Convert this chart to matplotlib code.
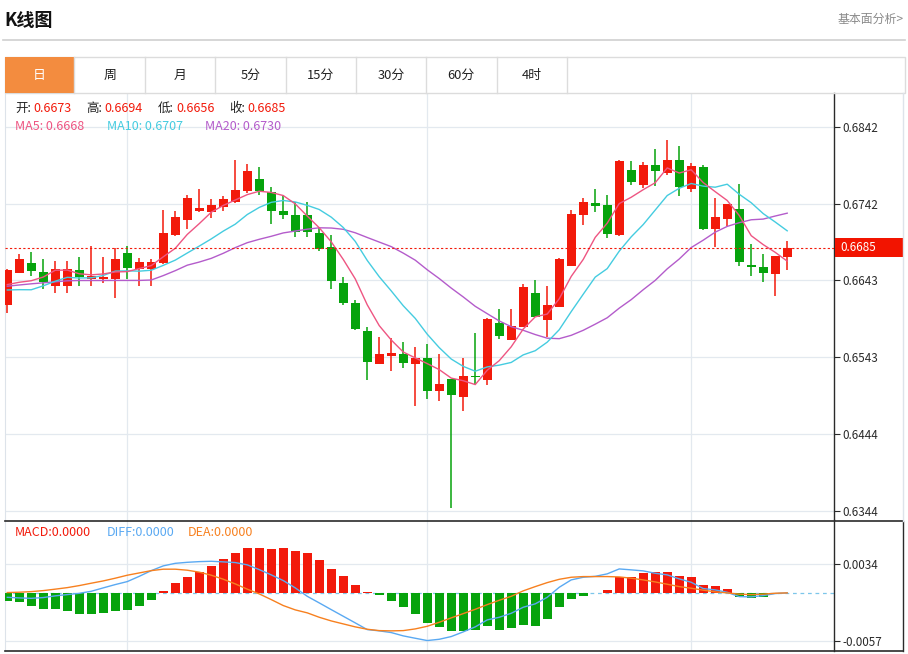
import matplotlib
matplotlib.use('Agg')
import matplotlib.pyplot as plt
import numpy as np
import pandas as pd
from matplotlib.patches import Rectangle
from matplotlib.lines import Line2D

plt.rcParams['font.family'] = ['Noto Sans CJK SC', 'DejaVu Sans']

W, H = 908, 654

# ---------------- data ----------------
opens = [0.6611, 0.6653, 0.6665, 0.6654, 0.6636, 0.6636, 0.6656, 0.6645, 0.6644, 0.6644,
         0.6678, 0.6657, 0.6657, 0.6665, 0.6702, 0.6721, 0.6733, 0.6732, 0.6738, 0.6744,
         0.6759, 0.6774, 0.6758, 0.6733, 0.6728, 0.6727, 0.6704, 0.6686, 0.6640, 0.6613,
         0.6577, 0.6535, 0.6545, 0.6548, 0.6535, 0.6542, 0.6499, 0.6515, 0.6492, 0.6519,
         0.6514, 0.6588, 0.6565, 0.6582, 0.6627, 0.6592, 0.6608, 0.6662, 0.6727, 0.6743,
         0.6741, 0.6702, 0.6786, 0.6767, 0.6792, 0.6782, 0.6799, 0.6761, 0.6790, 0.6709,
         0.6723, 0.6736, 0.6663, 0.6660, 0.6651, 0.6673]
highs = [0.6658, 0.6677, 0.6680, 0.6670, 0.6668, 0.6668, 0.6673, 0.6688, 0.6673, 0.6685,
         0.6688, 0.6672, 0.6671, 0.6734, 0.6733, 0.6753, 0.6761, 0.6748, 0.6752, 0.6799,
         0.6794, 0.6790, 0.6764, 0.6754, 0.6745, 0.6744, 0.6712, 0.6702, 0.6647, 0.6617,
         0.6583, 0.6569, 0.6568, 0.6563, 0.6556, 0.6560, 0.6548, 0.6515, 0.6542, 0.6575,
         0.6594, 0.6606, 0.6606, 0.6638, 0.6643, 0.6636, 0.6672, 0.6734, 0.6750, 0.6761,
         0.6754, 0.6799, 0.6798, 0.6796, 0.6813, 0.6825, 0.6817, 0.6795, 0.6793, 0.6750,
         0.6742, 0.6768, 0.6690, 0.6677, 0.6675, 0.6694]
lows = [0.6601, 0.6652, 0.6648, 0.6632, 0.6627, 0.6627, 0.6636, 0.6636, 0.6640, 0.6620,
        0.6645, 0.6635, 0.6635, 0.6664, 0.6701, 0.6710, 0.6732, 0.6724, 0.6733, 0.6743,
        0.6756, 0.6753, 0.6716, 0.6722, 0.6699, 0.6699, 0.6681, 0.6632, 0.6611, 0.6578,
        0.6514, 0.6534, 0.6525, 0.6529, 0.6480, 0.6489, 0.6487, 0.6348, 0.6473, 0.6509,
        0.6507, 0.6567, 0.6565, 0.6582, 0.6596, 0.6569, 0.6608, 0.6662, 0.6714, 0.6731,
        0.6698, 0.6700, 0.6767, 0.6762, 0.6765, 0.6780, 0.6752, 0.6758, 0.6708, 0.6686,
        0.6713, 0.6661, 0.6648, 0.6641, 0.6623, 0.6656]
closes = [0.6656, 0.6671, 0.6655, 0.6641, 0.6657, 0.6657, 0.6647, 0.6648, 0.6647, 0.6670,
          0.6659, 0.6667, 0.6667, 0.6704, 0.6725, 0.6749, 0.6737, 0.6741, 0.6748, 0.6760,
          0.6784, 0.6759, 0.6733, 0.6728, 0.6706, 0.6705, 0.6683, 0.6642, 0.6614, 0.6580,
          0.6537, 0.6548, 0.6549, 0.6536, 0.6542, 0.6500, 0.6509, 0.6494, 0.6519, 0.6517,
          0.6593, 0.6571, 0.6584, 0.6634, 0.6596, 0.6611, 0.6670, 0.6729, 0.6744, 0.6739,
          0.6703, 0.6797, 0.6770, 0.6793, 0.6784, 0.6799, 0.6764, 0.6791, 0.6710, 0.6725,
          0.6742, 0.6667, 0.6660, 0.6652, 0.6675, 0.6685]
# closes before the visible window (read back from the MA lines at the left edge)
prior_closes = [0.6639, 0.6625, 0.6615, 0.6631, 0.6631, 0.6639, 0.6648, 0.6647, 0.6668, 0.6659,
                0.6667, 0.6656, 0.6590, 0.6597, 0.6607, 0.6656, 0.6645, 0.6617, 0.6613]

macd_hist = [-0.00091, -0.00109, -0.00153, -0.00185, -0.00192, -0.00215, -0.00244, -0.00247, -0.00239, -0.00208,
             -0.00200, -0.00149, -0.00079, 0.00027, 0.00114, 0.00188, 0.00244, 0.00318, 0.00397, 0.00474,
             0.00533, 0.00526, 0.00518, 0.00526, 0.00498, 0.00467, 0.00392, 0.00286, 0.00197, 0.00098,
             0.00015, -0.00024, -0.00091, -0.00168, -0.00251, -0.00357, -0.00404, -0.00447, -0.00444, -0.00439,
             -0.00392, -0.00432, -0.00415, -0.00380, -0.00392, -0.00302, -0.00168, -0.00074, -0.00035, -0.00006,
             0.00039, 0.00185, 0.00188, 0.00235, 0.00244, 0.00251, 0.00204, 0.00188, 0.00094, 0.00086,
             0.00047, -0.00051, -0.00062, -0.00051, 0.0, 0.0]
diff = [-0.00052, -0.00059, -0.00064, -0.00055, -0.00035, -0.00020, -0.00005, 0.00019, 0.00059, 0.00098,
        0.00133, 0.00195, 0.00262, 0.00318, 0.00348, 0.00360, 0.00368, 0.00372, 0.00365, 0.00357,
        0.00330, 0.00274, 0.00212, 0.00145, 0.00059, -0.00040, -0.00118, -0.00197, -0.00275, -0.00353,
        -0.00432, -0.00447, -0.00467, -0.00506, -0.00534, -0.00561, -0.00546, -0.00514, -0.00459, -0.00400,
        -0.00318, -0.00287, -0.00240, -0.00169, -0.00129, -0.00052, 0.00066, 0.00153, 0.00184, 0.00195,
        0.00224, 0.00282, 0.00271, 0.00259, 0.00231, 0.00212, 0.00165, 0.00125, 0.00051, 0.00035,
        0.00007, -0.00044, -0.00047, -0.00032, -0.00008, 0.0]
dea = [0.00004, 0.00008, 0.00015, 0.00027, 0.00044, 0.00062, 0.00086, 0.00114, 0.00141, 0.00173,
       0.00208, 0.00235, 0.00262, 0.00279, 0.00279, 0.00267, 0.00244, 0.00208, 0.00161, 0.00106,
       0.00044, -0.00012, -0.00079, -0.00149, -0.00200, -0.00235, -0.00287, -0.00330, -0.00365, -0.00400,
       -0.00428, -0.00444, -0.00447, -0.00444, -0.00424, -0.00393, -0.00346, -0.00294, -0.00244, -0.00193,
       -0.00138, -0.00087, -0.00040, 0.00024, 0.00074, 0.00121, 0.00160, 0.00184, 0.00192, 0.00192,
       0.00192, 0.00188, 0.00173, 0.00153, 0.00129, 0.00102, 0.00074, 0.00055, 0.00032, 0.00012,
       0.0, -0.00015, -0.00020, -0.00015, -0.00004, 0.0]

price_ticks = [0.6344, 0.64436, 0.65432, 0.66428, 0.67424, 0.6842]
price_tick_labels = ['0.6344', '0.6444', '0.6543', '0.6643', '0.6742', '0.6842']
macd_ticks = [-0.0057, 0.0034]
macd_tick_labels = ['-0.0057', '0.0034']
tabs = ['日', '周', '月', '5分', '15分', '30分', '60分', '4时']
vgrid_idx = [10, 35, 57]
last_price = 0.6685
ohlc_labels = [('开:', '0.6673'), ('高:', '0.6694'), ('低:', '0.6656'), ('收:', '0.6685')]
ma_labels = ['MA5: 0.6668', 'MA10: 0.6707', 'MA20: 0.6730']
macd_labels = ['MACD:0.0000', 'DIFF:0.0000', 'DEA:0.0000']

# ---------------- style ----------------
RED = '#f21a0b'
GREEN = '#06a30c'
C_MA5 = '#ee5582'
C_MA10 = '#45cce0'
C_MA20 = '#b45ccb'
C_DIFF = '#5aa9f2'
C_DEA = '#f7801f'
GRID = '#e3e9ef'
AXC = '#2a2a2a'


def fx(x):
    return x / W


def fy(y):
    return 1 - y / H


fig = plt.figure(figsize=(W / 100, H / 100), dpi=100)
fig.patch.set_facecolor('white')

# ---------------- header ----------------
fig.text(fx(4), fy(20), 'K线图', fontsize=13, fontweight='bold', color='#111',
         ha='left', va='center')
fig.text(fx(904), fy(19), '基本面分析>', fontsize=8.6, color='#8a8a8a',
         ha='right', va='center')
fig.add_artist(Line2D([fx(3), fx(905)], [fy(40), fy(40)], color='#cfcfcf', lw=1.2))

tab_edges = [4.7, 74.4, 144.8, 215.1, 285.5, 355.8, 426.2, 496.5, 566.9]
fig.add_artist(Rectangle((fx(4.7), fy(92.5)), fx(905) - fx(4.7), fy(57) - fy(92.5),
                         facecolor='none', edgecolor='#dcdcdc', lw=1))
fig.add_artist(Rectangle((fx(4.7), fy(92.5)), fx(74.4) - fx(4.7), fy(57) - fy(92.5),
                         facecolor='#f38c3f', edgecolor='none'))
for e in tab_edges[1:]:
    fig.add_artist(Line2D([fx(e), fx(e)], [fy(57), fy(92.5)], color='#dcdcdc', lw=1))
for i, t in enumerate(tabs):
    cx = (tab_edges[i] + tab_edges[i + 1]) / 2
    fig.text(fx(cx), fy(75.5), t, fontsize=9.3, color='white' if i == 0 else '#222',
             ha='center', va='center')

# ---------------- price panel ----------------
ax = fig.add_axes([fx(5), fy(520), fx(834) - fx(5), fy(93) - fy(520)])
ax.set_xlim(-0.19, 68.9)
ax.set_ylim(0.63323, 0.68857)
for v in price_ticks:
    ax.axhline(v, color=GRID, lw=0.9, zorder=0)
for i in vgrid_idx:
    ax.axvline(i, color=GRID, lw=0.9, zorder=0)

x = np.arange(len(closes))
o = np.array(opens)
c = np.array(closes)
hi = np.array(highs)
lo = np.array(lows)
cols = np.where(c >= o, RED, GREEN)
ax.vlines(x, lo, hi, colors=cols, lw=1.1, zorder=3)
ax.bar(x, np.maximum(np.abs(c - o), 0.000035), bottom=np.minimum(o, c), width=0.72,
       color=cols, linewidth=0, zorder=4)

allc = pd.Series(prior_closes + closes)
n0 = len(prior_closes)
ma5 = allc.rolling(5).mean().values[n0:]
ma10 = allc.rolling(10).mean().values[n0:]
ma20 = allc.rolling(20).mean().values[n0:]
ax.plot(x, ma20, color=C_MA20, lw=1.0, zorder=5)
ax.plot(x, ma10, color=C_MA10, lw=1.0, zorder=5)
ax.plot(x, ma5, color=C_MA5, lw=1.0, zorder=5)

ax.axhline(last_price, color=RED, lw=0.8, ls=(0, (2, 2)), zorder=6)

ax.set_xticks([])
ax.yaxis.tick_right()
ax.set_yticks(price_ticks)
ax.set_yticklabels(price_tick_labels)
ax.tick_params(axis='y', direction='out', length=4, width=0.8, colors=AXC,
               labelsize=8.4, pad=2)
for s in ['top', 'bottom']:
    ax.spines[s].set_visible(False)
ax.spines['left'].set_color('#dde3ea')
ax.spines['right'].set_color(AXC)
ax.spines['right'].set_linewidth(1.0)

# last price tag
fig.add_artist(Rectangle((fx(835), fy(256.7)), fx(902.7) - fx(835), fy(238.3) - fy(256.7),
                         facecolor='#f21400', edgecolor='none'))
fig.text(fx(840.5), fy(247.3), '0.6685', fontsize=8.4, color='white', ha='left', va='center')

# price legend
ohlc_x = [(15, 33), (86, 104), (158, 176), (229, 247)]
for (lab, val), (x1, x2) in zip(ohlc_labels, ohlc_x):
    fig.text(fx(x1), fy(108.5), lab, fontsize=9, color='#222', ha='left', va='center')
    fig.text(fx(x2), fy(108.5), val, fontsize=9, color=RED, ha='left', va='center')
for lab, xx, col in zip(ma_labels, [15, 107, 205], [C_MA5, C_MA10, C_MA20]):
    fig.text(fx(xx), fy(126.5), lab, fontsize=9, color=col, ha='left', va='center')

# ---------------- MACD panel ----------------
ax2 = fig.add_axes([fx(5), fy(651), fx(834) - fx(5), fy(520) - fy(651)])
ax2.set_xlim(-0.19, 68.9)
ax2.set_ylim(-0.00684, 0.00858)
for v in macd_ticks:
    ax2.axhline(v, color=GRID, lw=0.9, zorder=0)
for i in vgrid_idx:
    ax2.axvline(i, color=GRID, lw=0.9, zorder=0)
ax2.axhline(0, color='#7cc6ea', lw=0.9, ls=(0, (3, 3)), zorder=1)

mh = np.array(macd_hist)
mcols = np.where(mh >= 0, RED, GREEN)
ax2.bar(x, mh, width=0.72, color=mcols, linewidth=0, zorder=3)
ax2.plot(x, diff, color=C_DIFF, lw=1.0, zorder=4)
ax2.plot(x, dea, color=C_DEA, lw=1.0, zorder=4)

ax2.set_xticks([])
ax2.yaxis.tick_right()
ax2.set_yticks(macd_ticks)
ax2.set_yticklabels(macd_tick_labels)
ax2.tick_params(axis='y', direction='out', length=4, width=0.8, colors=AXC,
                labelsize=8.4, pad=2)
for s in ['top', 'bottom']:
    ax2.spines[s].set_visible(False)
ax2.spines['left'].set_color('#dde3ea')
ax2.spines['right'].set_color(AXC)
ax2.spines['right'].set_linewidth(1.0)

for lab, xx, col in zip(macd_labels, [15, 107, 188], [RED, C_DIFF, C_DEA]):
    fig.text(fx(xx), fy(532.5), lab, fontsize=9, color=col, ha='left', va='center')

# frame lines
fig.add_artist(Line2D([fx(5), fx(903)], [fy(520.5), fy(520.5)], color=AXC, lw=1.2))
fig.add_artist(Line2D([fx(5), fx(903)], [fy(651), fy(651)], color=AXC, lw=1.2))
fig.add_artist(Line2D([fx(903), fx(903)], [fy(520.5), fy(651)], color=AXC, lw=1.0))
fig.add_artist(Line2D([fx(903), fx(903)], [fy(93), fy(520.5)], color='#dde3ea', lw=1.0))

fig.savefig('out.png', dpi=100, facecolor='white')
